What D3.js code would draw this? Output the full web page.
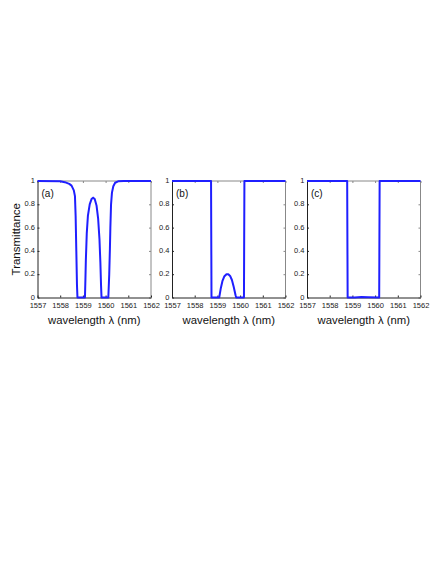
<!DOCTYPE html>
<html>
<head>
<meta charset="utf-8">
<script src="https://cdn.jsdelivr.net/npm/d3@7"></script>
<style>
  body { margin: 0; background: #fff; }
  svg { display: block; font-family: "Liberation Sans", Arial, sans-serif; }
</style>
</head>
<body>
<div id="chart"></div>
<script>
var width = 447;
var height = 578;

// wavelength ticks and transmittance ticks
var xTicks = [1557, 1558, 1559, 1560, 1561, 1562];
var yTicks = [0, 0.2, 0.4, 0.6, 0.8, 1];
var panelLabels = ["(a)", "(b)", "(c)"];

// panel (a)
var waveA = [1557, 1558, 1558.2, 1558.4, 1558.5, 1558.6, 1558.65, 1558.68, 1558.71, 1558.74, 1558.76,
             1559.09, 1559.11, 1559.13, 1559.17, 1559.22, 1559.3, 1559.38, 1559.45, 1559.52, 1559.6,
             1559.67, 1559.73, 1559.77, 1559.8, 1559.82, 1560.12, 1560.16, 1560.19, 1560.21, 1560.24,
             1560.28, 1560.34, 1560.42, 1560.55, 1560.8, 1562];
var transA = [1, 0.998, 0.99, 0.975, 0.96, 0.92, 0.87, 0.7, 0.4, 0.1, 0,
              0, 0.15, 0.32, 0.55, 0.7, 0.8, 0.845, 0.857, 0.845, 0.79,
              0.68, 0.5, 0.3, 0.1, 0, 0, 0.2, 0.42, 0.6, 0.8,
              0.9, 0.955, 0.985, 0.997, 1, 1];

// panel (b)
var waveB = [1557, 1558.72, 1558.74, 1559.08, 1559.15, 1559.22, 1559.3, 1559.4, 1559.48, 1559.56,
             1559.64, 1559.72, 1559.8, 1559.83, 1560.17, 1560.19, 1562];
var transB = [1, 1, 0, 0, 0.08, 0.14, 0.18, 0.2, 0.2, 0.185,
              0.15, 0.09, 0.02, 0, 0, 1, 1];

// panel (c)
var waveC = [1557, 1558.77, 1558.79, 1559.1, 1559.4, 1559.7, 1560.18, 1560.2, 1562];
var transC = [1, 1, 0, 0, 0.005, 0.003, 0, 1, 1];

var panels = [
    {left: 37.5, wave: waveA, trans: transA},
    {left: 172, wave: waveB, trans: transB},
    {left: 307, wave: waveC, trans: transC}
];
var plotW = 113.5;
var plotTop = 181;
var plotBottom = 297.5;

var svg = d3.select("#chart")
    .append("svg")
    .attr("width", width)
    .attr("height", height);

var yScale = d3.scaleLinear().domain([0, 1]).range([plotBottom, plotTop]);

panels.forEach(function (p, i) {
    var xScale = d3.scaleLinear().domain([1557, 1562]).range([p.left, p.left + plotW]);

    var g = svg.append("g");

    // box: top and right in grey
    g.append("line")
        .attr("x1", p.left).attr("x2", p.left + plotW)
        .attr("y1", plotTop).attr("y2", plotTop)
        .style("stroke", "#888").style("stroke-width", 1);
    g.append("line")
        .attr("x1", p.left + plotW).attr("x2", p.left + plotW)
        .attr("y1", plotTop).attr("y2", plotBottom)
        .style("stroke", "#888").style("stroke-width", 1);

    // mirrored ticks on top/right
    g.append("g")
        .attr("transform", "translate(0," + plotTop + ")")
        .call(d3.axisBottom(xScale).tickValues(xTicks).tickSize(2).tickFormat(""))
        .call(function (a) { a.select(".domain").remove(); a.selectAll("line").style("stroke", "#888"); });
    g.append("g")
        .attr("transform", "translate(" + (p.left + plotW) + ",0)")
        .call(d3.axisLeft(yScale).tickValues(yTicks).tickSize(2).tickFormat(""))
        .call(function (a) { a.select(".domain").remove(); a.selectAll("line").style("stroke", "#888"); });

    // bottom axis
    var xAxis = g.append("g")
        .attr("transform", "translate(0," + plotBottom + ")")
        .call(d3.axisTop(xScale).tickValues(xTicks).tickSize(2).tickFormat(d3.format("d")).tickSizeOuter(0));
    xAxis.select(".domain").style("stroke", "#222");
    xAxis.selectAll("line").style("stroke", "#222");
    xAxis.selectAll("text")
        .attr("y", 10.5)
        .attr("dy", 0)
        .style("font-size", "7.5px")
        .style("fill", "#222")
        .style("font-family", "Liberation Sans, Arial, sans-serif");

    // left axis
    var yAxis = g.append("g")
        .attr("transform", "translate(" + p.left + ",0)")
        .call(d3.axisRight(yScale).tickValues(yTicks).tickSize(2).tickFormat(d3.format("")).tickSizeOuter(0));
    yAxis.select(".domain").style("stroke", "#222");
    yAxis.selectAll("line").style("stroke", "#222");
    yAxis.selectAll("text")
        .attr("x", -2.5)
        .attr("dy", "0.2em")
        .style("text-anchor", "end")
        .style("font-size", "7.5px")
        .style("fill", "#222")
        .style("font-family", "Liberation Sans, Arial, sans-serif");

    var pts = p.wave.map(function (w, k) { return {x: w, y: p.trans[k]}; });
    var line = d3.line()
        .x(function (d) { return xScale(d.x); })
        .y(function (d) { return yScale(d.y); });

    g.append("path")
        .attr("d", line(pts))
        .style("stroke", "#1f1fff")
        .style("stroke-width", 2)
        .style("stroke-linejoin", "round")
        .style("fill", "none");

    g.append("text")
        .attr("x", p.left + 4)
        .attr("y", plotTop + 16)
        .style("font-size", "10px")
        .style("fill", "#111")
        .text(panelLabels[i]);

    g.append("text")
        .attr("x", p.left + plotW / 2)
        .attr("y", 323.5)
        .style("text-anchor", "middle")
        .style("font-size", "11.3px")
        .style("fill", "#111")
        .text("wavelength \u03bb (nm)");
});

svg.append("text")
    .attr("transform", "translate(20," + ((plotTop + plotBottom) / 2) + ") rotate(-90)")
    .style("text-anchor", "middle")
    .style("font-size", "11.5px")
    .style("fill", "#111")
    .text("Transmittance");
</script>
</body>
</html>
